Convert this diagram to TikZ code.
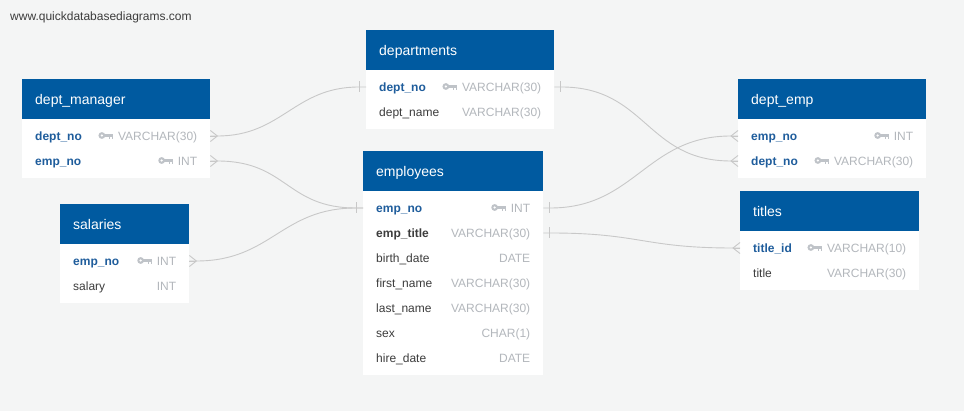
\documentclass[tikz,border=0pt]{standalone}
\usepackage{fontspec}
\setmainfont{Liberation Sans}
\usetikzlibrary{calc}
\definecolor{bgc}{HTML}{F4F5F5}
\definecolor{hdrc}{HTML}{005AA0}
\definecolor{pkc}{HTML}{1F5D9C}
\definecolor{txc}{HTML}{3C3C3C}
\definecolor{tyc}{HTML}{B3B7BC}
\definecolor{keyc}{HTML}{BFC3C8}
\definecolor{linec}{HTML}{C8C8C8}
\tikzset{
  hdr/.style={rectangle, fill=hdrc, anchor=north west, minimum height=40pt, inner sep=0pt},
  hdrtxt/.style={anchor=west, inner sep=0pt, text=white, font=\fontsize{14}{16}\selectfont, text height=10pt, text depth=0pt},
  bodybox/.style={rectangle, fill=white, anchor=north west, inner sep=0pt},
  rowbox/.style={rectangle, anchor=west, minimum height=25pt, inner sep=0pt},
  fbase/.style={inner sep=0pt, font=\fontsize{12}{14}\selectfont, text height=9pt, text depth=0pt},
  pkname/.style={fbase, text=pkc, font=\fontsize{12}{14}\selectfont\bfseries},
  fkname/.style={fbase, text=txc, font=\fontsize{12}{14}\selectfont\bfseries},
  plname/.style={fbase, text=txc},
  ftype/.style={fbase, text=tyc},
  conn/.style={draw=linec, line width=0.9pt},
  keyic/.pic={
    \fill[keyc] (-11.5,0) circle (3.4pt);
    \fill[white] (-11.5,0) circle (1.2pt);
    \fill[keyc] (-9,-1.1) rectangle (0,1.1);
    \fill[keyc] (-4.6,1) rectangle (-3,3.2);
    \fill[keyc] (-1.6,1) rectangle (0,3.6);
  },
  crowR/.pic={\draw[conn] (0,-5.5) -- (7,0) -- (0,5.5); \draw[conn] (0,0) -- (7,0);},
  crowL/.pic={\draw[conn] (0,-5.5) -- (-7,0) -- (0,5.5); \draw[conn] (0,0) -- (-7,0);},
  barR/.pic={\draw[conn] (6.5,-5.5) -- (6.5,5.5);},
  barL/.pic={\draw[conn] (-6.5,-5.5) -- (-6.5,5.5);}
}
% #1 id, #2 x, #3 y, #4 width, #5 body height, #6 title
\newcommand{\ertable}[6]{%
  \node[hdr, minimum width=#4pt] (#1-h) at (#2,#3) {};
  \node[hdrtxt] (#1-ht) at ($(#1-h.west)+(13,0)$) {#6};
  \node[bodybox, minimum width=#4pt, minimum height=#5pt] (#1-b) at (#2,#3+40) {};
}
% #1 table id, #2 width, #3 row id, #4 index, #5 name style, #6 name, #7 type
\newcommand{\errow}[7]{%
  \node[rowbox, minimum width=#2pt] (#3) at ($(#1-b.north west)+(0,17+25*#4)$) {};
  \node[#5, anchor=west] (#3-n) at ($(#3.west)+(13,0)$) {#6};
  \node[ftype, anchor=east] (#3-t) at ($(#3.east)+(-13,0)$) {#7};
}
\newcommand{\erkey}[1]{\pic at ($(#1-t.west)+(-4.5,-0.5)$) {keyic};}
\begin{document}
\begin{tikzpicture}[x=1pt,y=-1pt]
\useasboundingbox (0,0) rectangle (964,411);
\fill[bgc] (0,0) rectangle (964,411);
\node[anchor=west, inner sep=0pt, text=txc, font=\fontsize{12}{14}\selectfont, text height=9pt, text depth=0pt] (wm) at (10,16.5) {www.quickdatabasediagrams.com};

% dept_manager
\ertable{dm}{22}{79}{188}{59}{dept\_manager}
\errow{dm}{188}{dm1}{0}{pkname}{dept\_no}{VARCHAR(30)}\erkey{dm1}
\errow{dm}{188}{dm2}{1}{pkname}{emp\_no}{INT}\erkey{dm2}

% departments
\ertable{dp}{366}{30}{188}{59}{departments}
\errow{dp}{188}{dp1}{0}{pkname}{dept\_no}{VARCHAR(30)}\erkey{dp1}
\errow{dp}{188}{dp2}{1}{plname}{dept\_name}{VARCHAR(30)}

% employees
\ertable{em}{363}{151}{180}{184}{employees}
\errow{em}{180}{em1}{0}{pkname}{emp\_no}{INT}\erkey{em1}
\errow{em}{180}{em2}{1}{fkname}{emp\_title}{VARCHAR(30)}
\errow{em}{180}{em3}{2}{plname}{birth\_date}{DATE}
\errow{em}{180}{em4}{3}{plname}{first\_name}{VARCHAR(30)}
\errow{em}{180}{em5}{4}{plname}{last\_name}{VARCHAR(30)}
\errow{em}{180}{em6}{5}{plname}{sex}{CHAR(1)}
\errow{em}{180}{em7}{6}{plname}{hire\_date}{DATE}

% salaries
\ertable{sa}{60}{204}{129}{59}{salaries}
\errow{sa}{129}{sa1}{0}{pkname}{emp\_no}{INT}\erkey{sa1}
\errow{sa}{129}{sa2}{1}{plname}{salary}{INT}

% dept_emp
\ertable{de}{738}{79}{188}{59}{dept\_emp}
\errow{de}{188}{de1}{0}{pkname}{emp\_no}{INT}\erkey{de1}
\errow{de}{188}{de2}{1}{pkname}{dept\_no}{VARCHAR(30)}\erkey{de2}

% titles
\ertable{ti}{740}{191}{179}{59}{titles}
\errow{ti}{179}{ti1}{0}{pkname}{title\_id}{VARCHAR(10)}\erkey{ti1}
\errow{ti}{179}{ti2}{1}{plname}{title}{VARCHAR(30)}

% connectors
\draw[conn] (dm1.east) -- ++(7,0) .. controls +(65,0) and +(-65,0) .. ($(dp1.west)+(-7,0)$) -- (dp1.west);
\pic at (dm1.east) {crowR}; \pic at (dp1.west) {barL};

\draw[conn] (dm2.east) -- ++(7,0) .. controls +(70,0) and +(-70,0) .. ($(em1.west)+(-7,0)$) -- (em1.west);
\pic at (dm2.east) {crowR}; \pic at (em1.west) {barL};

\draw[conn] (sa1.east) -- ++(7,0) .. controls +(75,0) and +(-75,0) .. ($(em1.west)+(-7,0)$) -- (em1.west);
\pic at (sa1.east) {crowR};

\draw[conn] (dp1.east) -- ++(7,0) .. controls +(85,0) and +(-85,0) .. ($(de2.west)+(-7,0)$) -- (de2.west);
\pic at (dp1.east) {barR}; \pic at (de2.west) {crowL};

\draw[conn] (em1.east) -- ++(7,0) .. controls +(85,0) and +(-85,0) .. ($(de1.west)+(-7,0)$) -- (de1.west);
\pic at (em1.east) {barR}; \pic at (de1.west) {crowL};

\draw[conn] (em2.east) -- ++(7,0) .. controls +(90,0) and +(-90,0) .. ($(ti1.west)+(-7,0)$) -- (ti1.west);
\pic at (em2.east) {barR}; \pic at (ti1.west) {crowL};
\end{tikzpicture}
\end{document}
